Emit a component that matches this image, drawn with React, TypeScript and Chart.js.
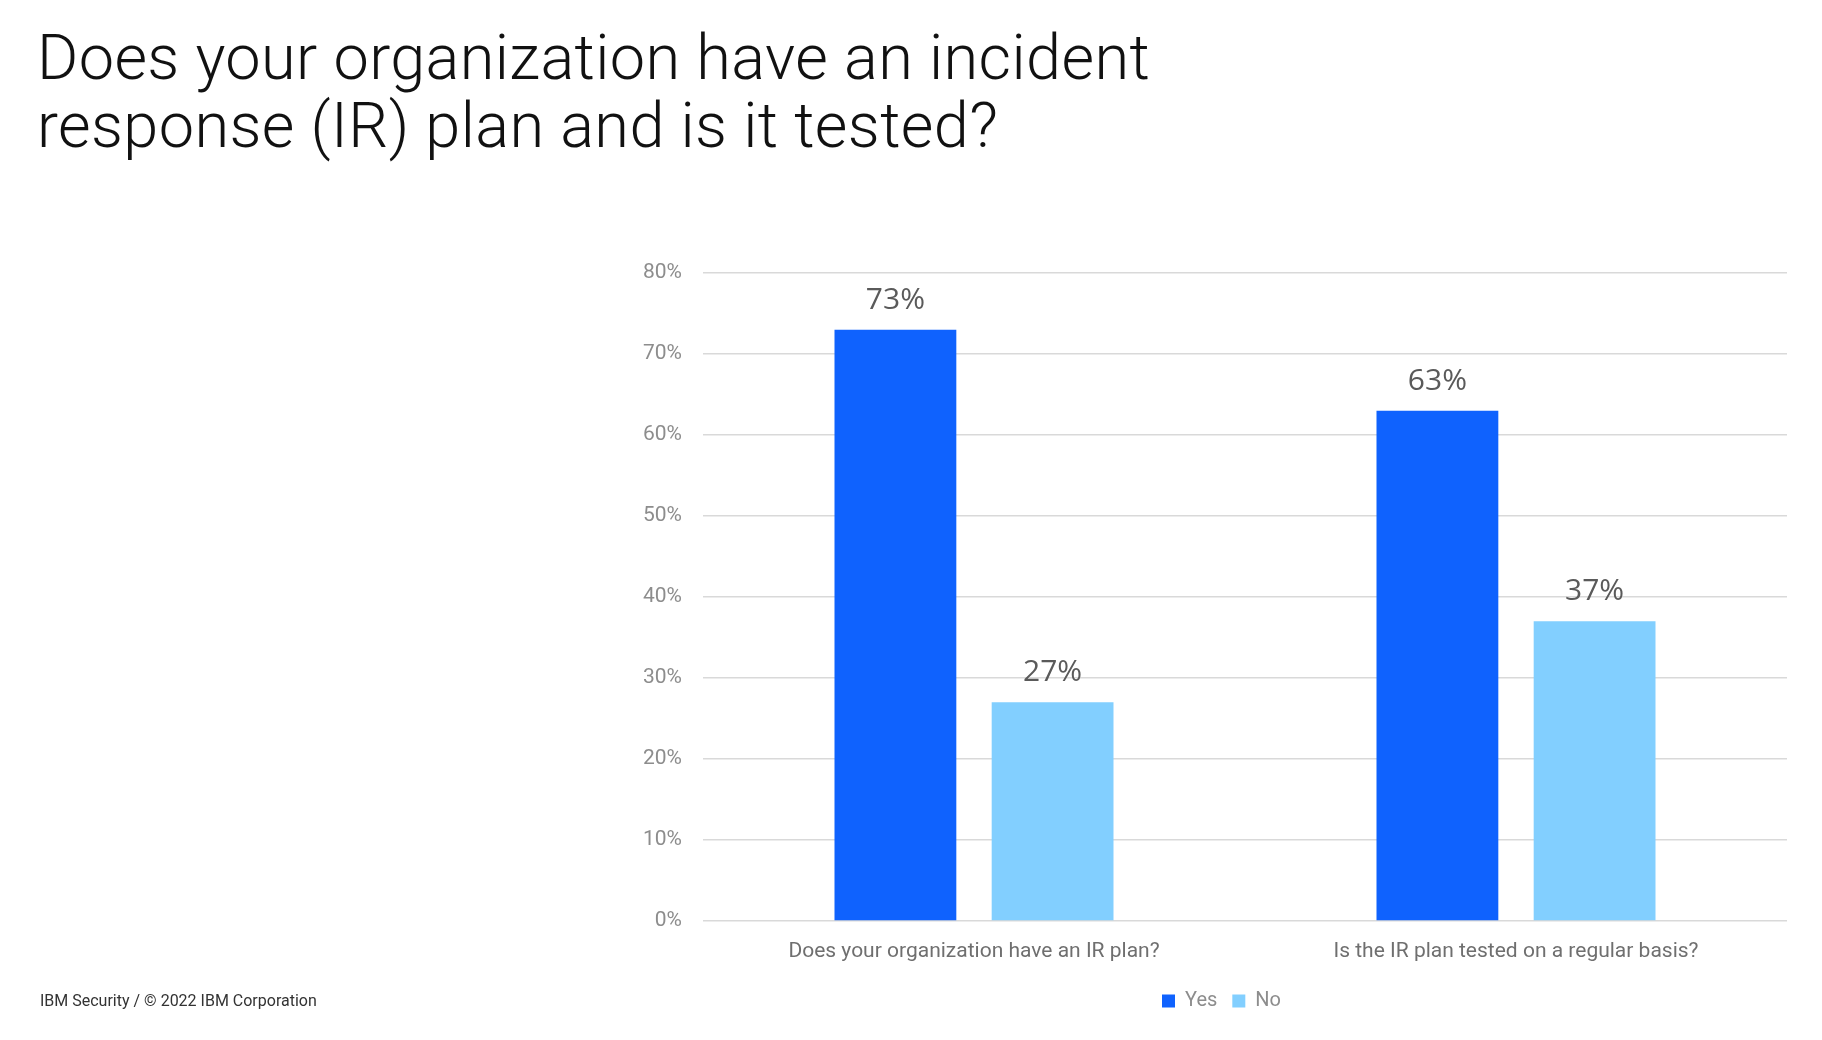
import { useEffect, useRef } from "react";
import { Chart, registerables } from "chart.js";

Chart.register(...registerables);

const categories = [
  "Does your organization have an IR plan?",
  "Is the IR plan tested on a regular basis?",
];
const yesValues = [73, 63];
const noValues = [27, 37];
const yMax = 80;
const yStep = 10;

const valueLabels = {
  id: "valueLabels",
  afterDatasetsDraw(chart: Chart) {
    const ctx = chart.ctx;
    ctx.save();
    ctx.font = "30px 'Open Sans'";
    ctx.fillStyle = "#5a5a5a";
    ctx.textAlign = "center";
    ctx.textBaseline = "alphabetic";
    chart.data.datasets.forEach((ds, i) => {
      const meta = chart.getDatasetMeta(i);
      meta.data.forEach((bar, j) => {
        ctx.fillText(ds.data[j] + "%", bar.x, bar.y - 21);
      });
    });
    ctx.restore();
  },
};

// the legend in the slide sits a little right of the plot's centre
const shiftLegend = {
  id: "shiftLegend",
  afterLayout(chart: Chart) {
    const legend = chart.legend;
    if (!legend) return;
    legend.left += 28;
    legend.right += 28;
  },
};

export default function App() {
  const canvasRef = useRef<HTMLCanvasElement>(null);

  useEffect(() => {
    if (!canvasRef.current) return;
    const chart = new Chart(canvasRef.current, {
      type: "bar",
      data: {
        labels: categories,
        datasets: [
          {
            label: "Yes",
            data: yesValues,
            backgroundColor: "#0f62fe",
            categoryPercentage: 0.58,
            barPercentage: 0.775,
          },
          {
            label: "No",
            data: noValues,
            backgroundColor: "#82cfff",
            categoryPercentage: 0.58,
            barPercentage: 0.775,
          },
        ],
      },
      options: {
        animation: false,
        responsive: false,
        layout: { padding: { left: 600, right: 35, top: 273, bottom: 19 } },
        plugins: {
          title: { display: false },
          tooltip: { enabled: false },
          legend: {
            position: "bottom",
            labels: {
              boxWidth: 13,
              boxHeight: 13,
              padding: 15,
              color: "#8d8d8d",
              font: { family: "Roboto", size: 20 },
            },
          },
        },
        scales: {
          x: {
            grid: { display: false },
            border: { display: false },
            ticks: {
              color: "#6f6f6f",
              padding: 10,
              font: { family: "Roboto", size: 21 },
            },
            afterFit(scale) {
              scale.height = 55;
            },
          },
          y: {
            min: 0,
            max: yMax,
            border: { display: false },
            grid: { color: "#d9d9d9", lineWidth: 1.5, drawTicks: false },
            afterFit(scale) {
              scale.width = 103;
            },
            ticks: {
              stepSize: yStep,
              color: "#8d8d8d",
              padding: 21,
              font: { family: "Roboto", size: 21 },
              callback: (v) => v + "%",
            },
          },
        },
      },
      plugins: [valueLabels, shiftLegend],
    });
    return () => chart.destroy();
  }, []);

  return (
    <div
      style={{
        position: "absolute",
        left: 0,
        top: 0,
        width: 1822,
        height: 1040,
        background: "#fff",
        fontFamily: "Roboto",
      }}
    >
      <div
        style={{
          position: "absolute",
          left: 37,
          top: 24,
          fontSize: 63,
          lineHeight: "68px",
          letterSpacing: "0.4px",
          fontWeight: 300,
          color: "#111",
          whiteSpace: "nowrap",
        }}
      >
        Does your organization have an incident
        <br />
        response (IR) plan and is it tested?
      </div>
      <canvas
        ref={canvasRef}
        width={1822}
        height={1040}
        style={{ position: "absolute", left: 0, top: 0 }}
      />
      <div
        style={{
          position: "absolute",
          left: 40,
          top: 993,
          fontSize: 16,
          lineHeight: "16px",
          color: "#333",
          whiteSpace: "nowrap",
        }}
      >
        IBM Security / © 2022 IBM Corporation
      </div>
    </div>
  );
}
